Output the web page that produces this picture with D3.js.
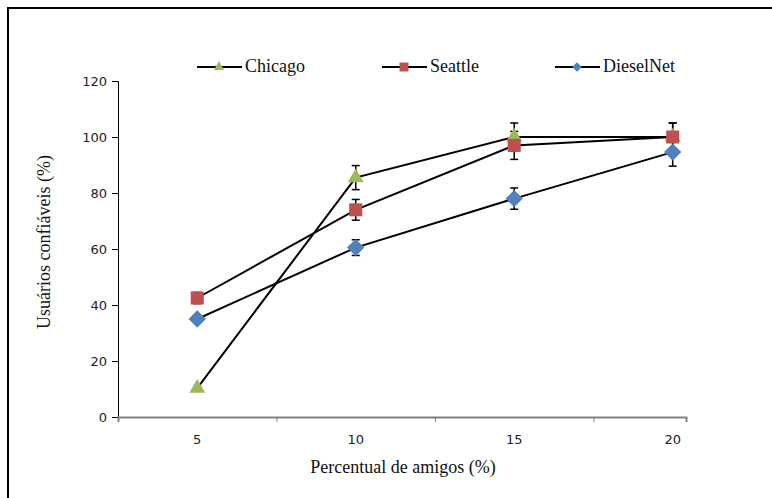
<!DOCTYPE html>
<html>
<head>
<meta charset="utf-8">
<script src="https://cdn.jsdelivr.net/npm/d3@7"></script>
<style>
  body { margin: 0; background: #fff; }
  .tick text { font-family: "DejaVu Sans", Verdana, sans-serif; font-size: 13px; fill: #222; }
  .title { font-family: "Liberation Serif", "Times New Roman", serif; font-size: 18px; fill: #111; }
  .legend text { font-family: "Liberation Serif", "Times New Roman", serif; font-size: 18px; fill: #111; }
</style>
</head>
<body>
<div id="chart"></div>
<script>
// data
var xValues = [5, 10, 15, 20];
var seriesNames = ["Chicago", "Seattle", "DieselNet"];
var chicago = [10.3, 85.5, 100, 100];
var seattle = [42.5, 74, 97, 100];
var dieselnet = [35, 60.5, 78, 94.6];
var chicagoErr = [0.5, 4.3, 5, 5];
var seattleErr = [2, 3.7, 5, 5];
var dieselnetErr = [1, 2.8, 3.8, 5];
var yTicks = [0, 20, 40, 60, 80, 100, 120];

var svgWidth = 772, svgHeight = 498;

var svg = d3.select("#chart")
    .append("svg")
    .attr("width", svgWidth)
    .attr("height", svgHeight);

// outer frame
svg.append("rect")
    .attr("x", 8).attr("y", 8)
    .attr("width", 800).attr("height", 520)
    .attr("fill", "none")
    .attr("stroke", "#000")
    .attr("stroke-width", 2);

// scales
var xScale = d3.scaleLinear().domain([2.5, 20.42]).range([118, 686]);
var yScale = d3.scaleLinear().domain([0, 120]).range([417, 81]);

// y axis
var leftAxis = d3.axisLeft(yScale).tickValues(yTicks).tickSize(6).tickPadding(5);
var gy = svg.append("g")
    .attr("transform", "translate(118,0)")
    .call(leftAxis);
gy.select(".domain").attr("stroke", "#000");
gy.selectAll(".tick line").attr("stroke", "#000");

// x axis - ticks sit between categories, labels at categories
var bottomAxis = d3.axisBottom(xScale).tickValues([7.5, 12.5, 17.5]).tickSize(5).tickFormat("");
var gx = svg.append("g")
    .attr("transform", "translate(0,417)")
    .call(bottomAxis);
gx.select(".domain").attr("stroke", "#808080").attr("stroke-width", 2);
gx.selectAll(".tick line").attr("stroke", "#808080");

svg.append("g").selectAll("text")
    .data(xValues)
    .enter()
    .append("text")
    .attr("x", d => xScale(d))
    .attr("y", 444)
    .attr("text-anchor", "middle")
    .style("font-family", "DejaVu Sans, Verdana, sans-serif")
    .style("font-size", "13px")
    .style("fill", "#222")
    .text(d => d);

// axis titles
svg.append("text")
    .attr("class", "title")
    .attr("x", 403).attr("y", 473)
    .attr("text-anchor", "middle")
    .text("Percentual de amigos (%)");

svg.append("text")
    .attr("class", "title")
    .attr("transform", "translate(50,242) rotate(-90)")
    .attr("text-anchor", "middle")
    .text("Usuários confiáveis (%)");

var series = [
    { name: seriesNames[0], values: chicago, err: chicagoErr, color: "#9BBB59", shape: d3.symbolTriangle, size: 110, rot: 0 },
    { name: seriesNames[1], values: seattle, err: seattleErr, color: "#C0504D", shape: d3.symbolSquare, size: 170, rot: 0 },
    { name: seriesNames[2], values: dieselnet, err: dieselnetErr, color: "#4F81BD", shape: d3.symbolSquare, size: 150, rot: 45 }
];

var line = d3.line()
    .x((d, i) => xScale(xValues[i]))
    .y(d => yScale(d));

// lines
svg.append("g").selectAll("path")
    .data(series)
    .enter()
    .append("path")
    .attr("d", s => line(s.values))
    .attr("fill", "none")
    .attr("stroke", "#000")
    .attr("stroke-width", 2);

// error bars
series.forEach(function(s) {
    var g = svg.append("g").attr("stroke", "#000").attr("stroke-width", 1.5);
    var pts = s.values.map((v, i) => ({ x: xScale(xValues[i]), lo: yScale(v - s.err[i]), hi: yScale(v + s.err[i]) }));
    g.selectAll(".bar").data(pts).enter().append("line")
        .attr("x1", d => d.x).attr("x2", d => d.x)
        .attr("y1", d => d.lo).attr("y2", d => d.hi);
    g.selectAll(".capTop").data(pts).enter().append("line")
        .attr("x1", d => d.x - 4).attr("x2", d => d.x + 4)
        .attr("y1", d => d.hi).attr("y2", d => d.hi);
    g.selectAll(".capBot").data(pts).enter().append("line")
        .attr("x1", d => d.x - 4).attr("x2", d => d.x + 4)
        .attr("y1", d => d.lo).attr("y2", d => d.lo);
});

// markers
series.forEach(function(s) {
    svg.append("g").selectAll("path")
        .data(s.values)
        .enter()
        .append("path")
        .attr("d", d3.symbol().type(s.shape).size(s.size))
        .attr("transform", (d, i) => `translate(${xScale(xValues[i])},${yScale(d)}) rotate(${s.rot})`)
        .attr("fill", s.color);
});

// legend
var legendX = [197, 382, 555];
var legendSizes = [45, 80, 45];
var legend = svg.append("g").attr("class", "legend");
series.forEach(function(s, i) {
    var lg = legend.append("g").attr("transform", `translate(${legendX[i]},67)`);
    lg.append("line").attr("x1", 0).attr("x2", 45).attr("stroke", "#000").attr("stroke-width", 2);
    lg.append("path")
        .attr("d", d3.symbol().type(s.shape).size(legendSizes[i]))
        .attr("transform", `translate(22,0) rotate(${s.rot})`)
        .attr("fill", s.color);
    lg.append("text").attr("x", 48).attr("y", 5).text(s.name);
});
</script>
</body>
</html>
